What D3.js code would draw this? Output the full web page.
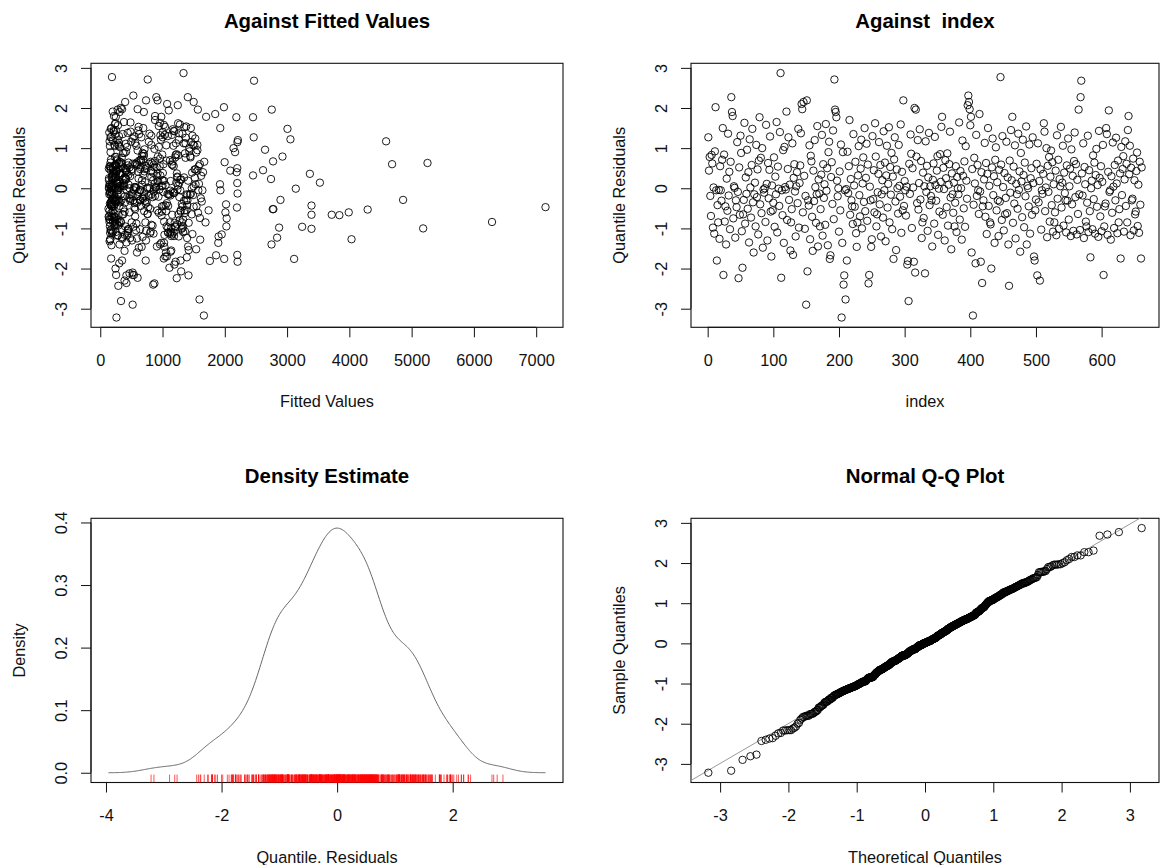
<!DOCTYPE html>
<html>
<head>
<meta charset="utf-8">
<script src="https://cdn.jsdelivr.net/npm/d3@7"></script>
<style>
  html, body { margin: 0; padding: 0; background: #fff; }
  svg text { font-family: "Liberation Sans", Arial, Helvetica, sans-serif; }
</style>
</head>
<body>
<svg id="chart" width="1160" height="865"></svg>
<script>
// Quantile residuals of the fitted model, in observation order
const residuals = [
  1.27, 0.44, 0.78, -0.19, -0.69, 0.83, 0.62, -0.98, 0.02, -1.13, 0.92, 2.02, -0.05, -1.80, -0.42, -0.85, -0.04, -1.26, 0.55, -0.05,
  -0.31, 0.71, 1.50, -2.16, 0.84, -0.83, -0.45, -1.40, 0.24, -0.56, 1.36, -0.18, 0.41, -1.02, 0.66, 2.27, 1.90, 1.80, -0.75, 0.05,
  0.01, -1.23, -0.30, -0.47, 1.15, -0.09, -2.24, 0.52, -0.66, 1.31, 0.88, -1.07, -1.98, -0.65, -0.29, 1.63, -0.88, 0.27, -0.14, 0.96,
  -0.51, 0.40, -1.35, 1.22, 0.02, -0.73, 0.58, 1.48, -0.35, -1.60, -0.15, 0.14, -0.95, 1.08, -0.22, 0.47, -1.15, 0.69, 1.77, -0.40,
  0.76, -0.62, 1.00, -1.48, -0.03, -0.11, 0.00, -0.84, 1.58, 0.11, -1.30, 0.63, -0.25, 0.46, 1.29, -0.58, -1.70, 0.07, -0.55, -0.36,
  0.77, -0.96, 0.29, -0.15, 1.65, -1.10, 0.54, -0.01, -0.44, 1.40, 2.87, -2.23, -0.05, -0.67, 0.95, -1.36, 1.03, 0.03, -0.03, 1.91,
  -0.79, 0.48, 1.27, -0.29, 0.09, -1.55, -0.85, -0.52, 1.12, -1.66, 0.26, 0.60, -0.08, -1.20, 0.05, 0.40, -0.37, 1.48, -0.98, 0.13,
  0.57, 1.37, 2.10, 1.97, -0.60, 2.15, 0.31, -1.01, -0.19, -2.90, 2.19, -2.07, -0.30, -0.43, 1.07, -1.27, 0.81, 0.67, -0.71, -1.56,
  0.44, -0.32, 1.20, 0.03, -0.86, -0.15, 1.55, -1.45, 0.22, -0.13, -0.95, -0.52, 0.34, 1.33, -1.18, 0.60, -0.24, 0.10, -0.91, 1.60,
  -0.06, 0.50, -1.42, 0.90, 1.16, -1.76, -1.67, 0.28, 0.65, -0.39, 1.44, -0.77, 2.71, 1.96, 1.90, 1.77, 0.19, -0.20, 0.00, -1.08,
  0.42, -0.55, 1.09, -3.22, -1.36, 0.90, -2.40, -2.17, -0.05, -2.77, -0.02, -1.80, 0.91, -0.12, 0.55, 1.70, -0.66, 0.23, -0.30, -0.45,
  -0.89, 1.35, 0.07, -0.46, 0.66, -1.12, -1.46, -0.85, 0.32, 1.05, -0.17, -0.70, 0.49, 1.21, -1.00, 0.12, 0.77, -0.34, 1.50, -0.57,
  0.26, 1.11, -0.81, 0.59, -2.37, -2.16, 0.04, -0.30, -1.46, -1.27, 1.30, -0.27, 0.45, -0.60, 1.62, 0.79, -0.95, -0.65, -0.10, 0.36,
  1.15, -0.40, 0.58, -1.20, -0.15, 0.20, -0.73, 1.42, -0.05, 0.64, -1.32, 0.32, 1.06, -0.48, 0.11, 1.52, -0.85, 0.53, -0.16, 0.88,
  -1.02, 0.29, -1.76, 0.72, 1.27, -0.33, -1.54, 0.47, 0.00, -0.63, 1.08, 0.06, -0.21, 1.59, -1.11, 0.41, -0.55, 2.19, -0.44, 0.18,
  -0.05, -0.68, 0.04, -1.90, -1.81, -2.81, 0.61, -0.14, 1.34, 0.86, -0.99, 0.50, 0.02, -1.83, 2.00, -2.10, 1.96, 0.79, -0.37, 1.20,
  -0.53, 0.13, 1.47, -0.28, 0.68, -1.24, -0.85, 0.39, -0.74, 0.05, -2.12, 1.17, -0.09, 0.56, -1.06, 0.27, 1.38, -0.42, 0.05, -0.19,
  -0.30, -1.45, 0.21, 0.62, -0.88, 1.28, 0.08, -0.31, 0.44, 0.80, -1.16, -0.01, -0.58, 0.85, 0.16, 1.53, 1.78, -0.66, 0.51, -0.02,
  -1.30, 0.70, 0.25, -0.47, 0.87, -0.93, 0.09, 0.60, 1.41, -0.23, -1.52, 0.37, -0.15, -0.61, 0.14, -0.95, -0.36, 0.55, -1.09, 0.28,
  0.00, -0.15, 1.64, -0.78, 0.43, 0.00, -1.28, 1.19, 0.31, -0.50, 0.67, -0.96, 1.05, 0.19, -0.26, 2.07, 2.31, 2.15, 1.97, 1.57,
  1.78, -1.60, 0.48, -3.17, -0.41, 0.76, 0.12, -1.87, 1.33, -0.19, 0.58, -0.05, -0.64, 1.85, -0.08, -1.83, 0.40, -2.36, -0.45, -0.30,
  0.22, 1.13, -0.71, 0.63, -1.14, 0.36, 1.50, -0.44, 0.06, -0.85, -0.90, -2.00, 0.52, 1.24, -0.17, 0.30, -1.36, 0.71, 1.02, -0.55,
  0.15, -0.30, -1.19, 0.46, -0.33, 2.77, 0.59, -0.79, 1.30, 0.03, -1.05, 0.38, -0.65, -0.24, 1.16, -0.62, 0.27, -1.40, -2.43, 0.69,
  -0.11, 1.45, 0.20, 1.78, -0.86, 0.54, -0.38, 1.07, -1.25, 0.11, -0.15, -0.51, 1.36, -0.04, 0.42, -1.58, 0.88, 0.17, -0.72, 1.21,
  0.33, -0.97, 0.64, -0.20, 1.54, -1.40, 0.06, 0.00, -0.45, 1.09, -1.13, 0.25, 0.50, -0.66, 1.27, 0.13, -1.70, -1.80, -0.55, -0.28,
  0.61, -2.17, 1.12, -0.35, 0.18, -2.30, 0.47, -1.03, -0.05, -0.14, 0.36, 1.62, 1.41, -0.57, 0.02, 1.00, -1.22, 0.56, -0.09, 0.78,
  -0.83, 0.29, 0.94, -0.42, 0.65, -1.08, 0.10, -0.85, -0.60, 0.44, -1.17, 1.32, -0.26, 0.71, -1.01, 0.23, 0.05, 1.53, -0.48, 0.14,
  1.06, -0.93, 0.39, -0.12, -0.30, -1.10, 0.57, -0.31, 1.24, -0.78, 0.05, 0.49, -1.19, 0.97, -0.40, 0.31, -1.06, 0.68, 1.39, -0.22,
  0.60, -1.15, 0.21, -0.64, 1.96, -0.15, -1.04, 2.27, 2.68, 0.37, -0.18, 1.12, -1.24, 0.53, 0.10, -0.83, -0.95, -0.36, 1.31, -1.09,
  0.45, -0.57, -1.72, 0.00, 0.19, -1.02, 0.82, -0.27, 0.64, -1.13, 0.33, 0.98, -0.46, 0.08, -1.21, 1.43, 0.26, -0.70, 0.55, -1.07,
  0.16, 1.08, -2.16, -0.95, -0.45, -0.38, 1.50, 1.35, -1.16, 0.41, 1.94, -0.09, -0.05, -1.28, 0.30, -0.61, 1.14, 0.04, -0.99, 0.58,
  -0.30, 1.26, 0.12, -1.12, 0.69, -0.85, -0.52, 0.37, -1.75, 1.03, -0.17, 0.48, 0.80, -1.08, 0.22, 1.17, -0.44, 0.61, -0.85, 1.45,
  1.80, 0.35, 1.06, -1.17, 0.51, -0.30, -0.26, 0.74, -1.05, 0.20, -0.65, -0.58, 0.43, 0.89, -0.94, 0.09, -1.11, 0.66, -0.41, -1.75,
  0.52
];

// Fitted values for the same observations
const fittedValues = [
  165, 412, 238, 880, 145, 1210, 305, 2872, 560, 190, 1430, 1986, 275, 730, 1050, 205, 640, 350, 1580, 1930,
  480, 172, 1927, 255, 995, 330, 1320, 2750, 615, 148, 790, 1125, 260, 455, 1670, 900, 700, 220, 2030, 385,
  212, 2840, 530, 7150, 2203, 158, 1228, 870, 295, 1480, 680, 182, 1110, 370, 2894, 960, 240, 1345, 505, 2646,
  132, 2190, 420, 3054, 760, 198, 1160, 3006, 315, 590, 1390, 3527, 2025, 228, 840, 1530, 1950, 270, 2185, 2020,
  345, 175, 2140, 620, 1240, 152, 470, 6291, 1020, 280, 735, 5255, 1615, 210, 545, 1290, 1070, 325, 915, 168,
  1450, 3242, 245, 820, 380, 1180, 160, 3140, 650, 1005, 1337, 600, 290, 3840, 1560, 1895, 430, 140, 950, 200,
  265, 720, 2464, 4863, 185, 1140, 505, 2770, 1370, 2200, 230, 4686, 860, 1900, 310, 1650, 555, 170, 1090, 2200,
  440, 1265, 1074, 350, 3990, 400, 195, 3392, 780, 520, 920, 1299, 250, 3392, 1510, 4035, 670, 2775, 135, 390,
  2088, 300, 2210, 575, 1195, 215, 940, 1410, 360, 2205, 155, 2780, 690, 1035, 275, 1600, 465, 1922, 820, 235,
  1125, 2200, 180, 2165, 495, 1990, 1860, 255, 1997, 1310, 610, 142, 762, 1567, 310, 2453, 1020, 395, 1470, 205,
  710, 1355, 285, 260, 980, 165, 850, 1417, 540, 1594, 225, 1290, 415, 1180, 150, 880, 3392, 2742, 340, 1545,
  270, 625, 1250, 190, 810, 445, 1030, 1690, 2453, 235, 1400, 560, 138, 975, 5185, 320, 1205, 745, 180, 1060,
  1520, 410, 205, 1150, 870, 520, 295, 1380, 665, 160, 1085, 480, 2614, 2010, 245, 925, 1330, 355, 705, 3366,
  1460, 175, 590, 1260, 330, 850, 220, 1190, 1640, 455, 150, 965, 580, 2195, 285, 1350, 725, 200, 1105, 390,
  640, 1235, 3113, 265, 1000, 175, 1420, 500, 795, 230, 1560, 365, 935, 1280, 158, 610, 1740, 735, 310, 1130,
  425, 985, 195, 1190, 1760, 333, 560, 1455, 240, 700, 1320, 170, 890, 2205, 330, 520, 2754, 2926, 1070, 280,
  4294, 380, 1165, 210, 655, 1395, 300, 845, 1600, 190, 470, 4590, 1010, 255, 735, 1240, 440, 165, 1500, 600,
  235, 910, 1285, 345, 580, 175, 1050, 720, 260, 1445, 395, 140, 990, 1225, 305, 615, 1700, 3717, 200, 860,
  510, 1120, 185, 770, 1360, 290, 455, 1015, 215, 680, 1540, 325, 145, 940, 1270, 400, 590, 1180, 250, 820,
  170, 1095, 485, 1330, 265, 750, 1605, 200, 905, 370, 1160, 530, 155, 1410, 690, 1245, 531, 1500, 600, 285,
  250, 1055, 640, 1664, 190, 1370, 875, 305, 1150, 520, 235, 1575, 760, 1846, 160, 1210, 430, 420, 990, 275,
  1300, 560, 180, 835, 1480, 250, 690, 1090, 345, 150, 1235, 245, 905, 1525, 470, 205, 1025, 650, 320, 1385,
  720, 260, 1140, 415, 1630, 188, 860, 1275, 300, 545, 170, 1005, 1470, 230, 780, 1355, 390, 960, 290, 625,
  1190, 215, 670, 980, 1420, 340, 155, 1060, 590, 1585, 275, 800, 1320, 185, 505, 1130, 365, 920, 240, 1260,
  450, 1210, 165, 700, 1380, 310, 1000, 575, 220, 1490, 855, 140, 420, 1155, 660, 275, 1045, 350, 1290, 195,
  780, 420, 1340, 245, 930, 390, 1515, 170, 640, 1080, 305, 1250, 485, 200, 890, 1430, 355, 725, 1165, 260,
  1025, 180, 600, 1395, 330, 810, 150, 1115, 470, 1560, 285, 965, 215, 690, 1305, 405, 175, 1040, 550, 1220,
  300, 840, 1475, 190, 635, 1090, 255, 1345, 520, 160, 985, 375, 1185, 710, 230, 1620, 440, 880, 145, 1270,
  590, 1150, 205, 760, 280, 1440, 345, 1406, 2469, 920, 175, 1215, 480, 650, 1530, 240, 1065, 395, 820, 1330,
  165, 705, 1390, 290, 1000, 445, 1250, 190, 585, 1120, 320, 870, 1500, 150, 680, 1180, 410, 225, 955, 1360,
  270, 820, 540, 1200, 185, 730, 1455, 360, 1030, 215, 1100, 620, 1285, 160, 480, 1570, 300, 900, 1140, 240,
  645, 1375, 195, 800, 1060, 330, 560, 1230, 175, 940, 1490, 285, 700, 1135, 415, 150, 1015, 520, 1310, 250,
  880, 205, 1175, 430, 740, 1400, 265, 960, 575, 140, 1255, 390, 815, 1540, 230, 670, 1090, 310, 180, 1020,
  470
];

// Axis tick values
const residualTicks = [-3, -2, -1, 0, 1, 2, 3];
const fittedTicks = [0, 1000, 2000, 3000, 4000, 5000, 6000, 7000];
const indexTicks = [0, 100, 200, 300, 400, 500, 600];
const densityXTicks = [-4, -2, 0, 2];
const densityYTicks = [0, 0.1, 0.2, 0.3, 0.4];
const qqTicks = [-3, -2, -1, 0, 1, 2, 3];

const svg = d3.select("#chart");
svg.append("rect").attr("width", 1160).attr("height", 865).attr("fill", "#fff");

const FONT = 16.3;
const n = Math.min(residuals.length, fittedValues.length);
const res = residuals.slice(0, n);
const fit = fittedValues.slice(0, n);

// R-style axis range: data extent widened by 4% on each side
function pad(ext) {
  const d = ext[1] - ext[0];
  return [ext[0] - 0.04 * d, ext[1] + 0.04 * d];
}

// Inverse of the standard normal CDF (Acklam's rational approximation)
function qnorm(p) {
  const a = [-3.969683028665376e+01, 2.209460984245205e+02, -2.759285104469687e+02, 1.383577518672690e+02, -3.066479806614716e+01, 2.506628277459239e+00];
  const b = [-5.447609879822406e+01, 1.615858368580409e+02, -1.556989798598866e+02, 6.680131188771972e+01, -1.328068155288572e+01];
  const c = [-7.784894002430293e-03, -3.223964580411365e-01, -2.400758277161838e+00, -2.549732539343734e+00, 4.374664141464968e+00, 2.938163982698783e+00];
  const d = [7.784695709041462e-03, 3.224671290700398e-01, 2.445134137142996e+00, 3.754408661907416e+00];
  const pl = 0.02425, ph = 1 - pl;
  let q, r;
  if (p < pl) {
    q = Math.sqrt(-2 * Math.log(p));
    return (((((c[0]*q+c[1])*q+c[2])*q+c[3])*q+c[4])*q+c[5]) / ((((d[0]*q+d[1])*q+d[2])*q+d[3])*q+1);
  }
  if (p > ph) {
    q = Math.sqrt(-2 * Math.log(1 - p));
    return -(((((c[0]*q+c[1])*q+c[2])*q+c[3])*q+c[4])*q+c[5]) / ((((d[0]*q+d[1])*q+d[2])*q+d[3])*q+1);
  }
  q = p - 0.5; r = q * q;
  return (((((a[0]*r+a[1])*r+a[2])*r+a[3])*r+a[4])*r+a[5])*q / (((((b[0]*r+b[1])*r+b[2])*r+b[3])*r+b[4])*r+1);
}

// Tick label formats with a plain hyphen for negatives
const fmtInt = v => String(Math.round(v));
const fmtOne = v => v.toFixed(1);

// Draws one framed panel with R-like axes and labels; returns its group and scales
function panel(cfg) {
  const [x0, x1, y0, y1] = cfg.box;
  const x = d3.scaleLinear().domain(cfg.xDomain).range([x0, x1]);
  const y = d3.scaleLinear().domain(cfg.yDomain).range([y1, y0]);
  const g = svg.append("g");

  const clipId = "clip" + Math.round(x0) + "_" + Math.round(y0);
  g.append("clipPath").attr("id", clipId)
    .append("rect").attr("x", x0).attr("y", y0).attr("width", x1 - x0).attr("height", y1 - y0);

  // bottom axis
  const gx = g.append("g").attr("transform", `translate(0,${y1})`)
    .call(d3.axisBottom(x).tickValues(cfg.xTicks).tickSize(10).tickPadding(16.8).tickFormat(cfg.xFmt));
  gx.select(".domain").attr("d", `M${x(cfg.xTicks[0])},0H${x(cfg.xTicks[cfg.xTicks.length - 1])}`);
  gx.attr("font-family", null).attr("font-size", null);
  gx.selectAll(".tick text").style("font-size", FONT + "px").attr("fill", "#111");
  gx.selectAll("line, path").attr("stroke", "#111");

  // left axis with labels turned parallel to the axis
  const gy = g.append("g").attr("transform", `translate(${x0},0)`)
    .call(d3.axisLeft(y).tickValues(cfg.yTicks).tickSize(10).tickFormat(cfg.yFmt));
  gy.select(".domain").attr("d", `M0,${y(cfg.yTicks[0])}V${y(cfg.yTicks[cfg.yTicks.length - 1])}`);
  gy.attr("font-family", null).attr("font-size", null);
  gy.selectAll(".tick text")
    .attr("x", null).attr("dy", null)
    .attr("text-anchor", "middle")
    .attr("transform", "translate(-24.3,0) rotate(-90)")
    .style("font-size", FONT + "px").attr("fill", "#111");
  gy.selectAll("line, path").attr("stroke", "#111");

  // frame
  g.append("rect").attr("x", x0).attr("y", y0).attr("width", x1 - x0).attr("height", y1 - y0)
    .attr("fill", "none").attr("stroke", "#111").attr("stroke-width", 1.1);

  // title and axis titles
  g.append("text").attr("x", (x0 + x1) / 2).attr("y", y0 - 35)
    .attr("text-anchor", "middle").style("font-size", "20.4px").style("font-weight", "bold")
    .style("white-space", "pre").attr("fill", "#000").text(cfg.title);
  g.append("text").attr("x", (x0 + x1) / 2).attr("y", y1 + 80)
    .attr("text-anchor", "middle").style("font-size", FONT + "px").attr("fill", "#111").text(cfg.xLabel);
  g.append("text").attr("transform", `translate(${x0 - 66.5},${(y0 + y1) / 2}) rotate(-90)`)
    .attr("text-anchor", "middle").style("font-size", FONT + "px").attr("fill", "#111").text(cfg.yLabel);

  return { g, x, y, clipId };
}

function drawCircles(p, pts) {
  p.g.append("g").selectAll("circle").data(pts).join("circle")
    .attr("cx", d => p.x(d[0])).attr("cy", d => p.y(d[1])).attr("r", 3.7)
    .attr("fill", "none").attr("stroke", "#000").attr("stroke-opacity", 0.88).attr("stroke-width", 1);
}

const resDomain = pad(d3.extent(res));

// Residuals against fitted values
const p1 = panel({
  box: [91, 563, 63.3, 327.3],
  xDomain: pad(d3.extent(fit)), yDomain: resDomain,
  xTicks: fittedTicks, yTicks: residualTicks, xFmt: fmtInt, yFmt: fmtInt,
  title: "Against Fitted Values", xLabel: "Fitted Values", yLabel: "Quantile Residuals"
});
drawCircles(p1, d3.range(n).map(i => [fit[i], res[i]]));

// Residuals against observation index
const p2 = panel({
  box: [691, 1159, 63.3, 327.3],
  xDomain: pad([1, n]), yDomain: resDomain,
  xTicks: indexTicks, yTicks: residualTicks, xFmt: fmtInt, yFmt: fmtInt,
  title: "Against  index", xLabel: "index", yLabel: "Quantile Residuals"
});
drawCircles(p2, d3.range(n).map(i => [i + 1, res[i]]));

// Kernel density estimate of the residuals (Gaussian kernel, nrd0 bandwidth)
const sorted = res.slice().sort(d3.ascending);
const iqr = d3.quantileSorted(sorted, 0.75) - d3.quantileSorted(sorted, 0.25);
const bw = 0.9 * Math.min(d3.deviation(res), iqr / 1.34) * Math.pow(n, -0.2);
const lo = sorted[0] - 3 * bw, hi = sorted[n - 1] + 3 * bw;
const dens = d3.range(512).map(k => {
  const xv = lo + (hi - lo) * k / 511;
  const s = d3.sum(res, v => Math.exp(-0.5 * ((xv - v) / bw) ** 2));
  return [xv, s / (n * bw * Math.sqrt(2 * Math.PI))];
});

const p3 = panel({
  box: [91, 563, 518.3, 782.5],
  xDomain: pad([lo, hi]), yDomain: pad(d3.extent(dens, d => d[1])),
  xTicks: densityXTicks, yTicks: densityYTicks, xFmt: fmtInt, yFmt: fmtOne,
  title: "Density Estimate", xLabel: "Quantile. Residuals", yLabel: "Density"
});
p3.g.append("path").datum(dens)
  .attr("d", d3.line().x(d => p3.x(d[0])).y(d => p3.y(d[1])))
  .attr("fill", "none").attr("stroke", "#666").attr("stroke-width", 1);
// rug of the residuals along the bottom edge
const rugLen = 0.03 * (782.5 - 518.3);
p3.g.append("g").selectAll("line").data(res).join("line")
  .attr("x1", d => p3.x(d)).attr("x2", d => p3.x(d))
  .attr("y1", 782.5).attr("y2", 782.5 - rugLen)
  .attr("stroke", "#ff0000").attr("stroke-opacity", 0.75).attr("stroke-width", 0.9);

// Normal Q-Q plot
const theo = d3.range(n).map(i => qnorm((i + 0.5) / n));
const p4 = panel({
  box: [691, 1159, 518.3, 782.5],
  xDomain: pad(d3.extent(theo)), yDomain: pad(d3.extent(sorted)),
  xTicks: qqTicks, yTicks: residualTicks, xFmt: fmtInt, yFmt: fmtInt,
  title: "Normal Q-Q Plot", xLabel: "Theoretical Quantiles", yLabel: "Sample Quantiles"
});
// reference line through the quartiles
const q1 = d3.quantileSorted(sorted, 0.25), q3 = d3.quantileSorted(sorted, 0.75);
const slope = (q3 - q1) / (qnorm(0.75) - qnorm(0.25));
const icpt = q1 - slope * qnorm(0.25);
const xd = p4.x.domain();
p4.g.append("line").attr("clip-path", `url(#${p4.clipId})`)
  .attr("x1", p4.x(xd[0])).attr("y1", p4.y(icpt + slope * xd[0]))
  .attr("x2", p4.x(xd[1])).attr("y2", p4.y(icpt + slope * xd[1]))
  .attr("stroke", "#999").attr("stroke-width", 1);
drawCircles(p4, d3.range(n).map(i => [theo[i], sorted[i]]));
</script>
</body>
</html>
